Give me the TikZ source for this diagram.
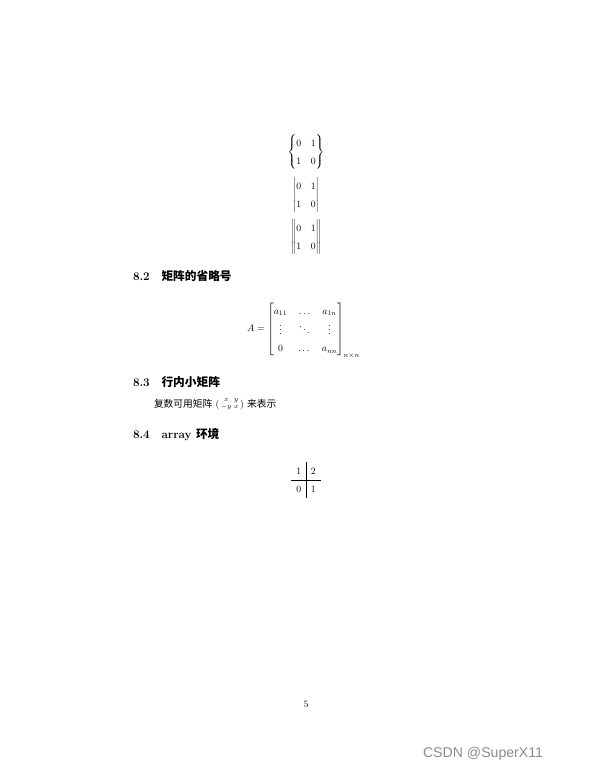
\documentclass[tikz,border=0pt]{standalone}
\usepackage{amsmath}
\usepackage{fontspec}
\newfontfamily\cjk{Noto Sans CJK SC}
\newfontfamily\wmfont{Liberation Sans}
\renewcommand{\arraystretch}{1.5}
\begin{document}
\begin{tikzpicture}[x=1.0268pt,y=-1.0268pt,
  every node/.style={inner sep=0pt,outer sep=0pt},
  heading/.style={anchor=base west,font=\large\bfseries},
  body/.style={anchor=base west,font=\normalsize},
  eqn/.style={anchor=center}]
\path[use as bounding box,fill=white] (0,0) rectangle (596,773);
% displayed matrices
\node[eqn] (bm) at (306,152) {$\begin{Bmatrix} 0 & 1\\ 1 & 0\end{Bmatrix}$};
\node[eqn] (vm) at (306,195) {$\begin{vmatrix} 0 & 1\\ 1 & 0\end{vmatrix}$};
\node[eqn] (Vm) at (306,237) {$\begin{Vmatrix} 0 & 1\\ 1 & 0\end{Vmatrix}$};
% 8.2
\node[heading] (s82) at (133,280) {8.2\hspace{1em}{\cjk\bfseries 矩阵的省略号}};
\node[anchor=west] (Aeq) at (247,330) {$A=\begin{bmatrix} a_{11} & \hspace{2pt}\dots\hspace{2pt} & a_{1n}\\ \vdots & \ddots & \vdots\\ 0 & \dots & a_{nn}\end{bmatrix}_{n\times n}$};
% 8.3
\node[heading] (s83) at (133,386) {8.3\hspace{1em}{\cjk\bfseries 行内小矩阵}};
\node[body] (p83) at (154,407) {{\cjk 复数可用矩阵} $(\begin{smallmatrix} x & y\\ -y & x\end{smallmatrix})$ {\cjk 来表示}};
% 8.4
\node[heading] (s84) at (133,438) {8.4\hspace{1em}array {\cjk\bfseries 环境}};
\node[eqn] (arr) at (306,480) {$\begin{array}{c|c} 1 & 2\\ \hline 0 & 1\end{array}$};
% page number
\node[body,anchor=base] (pg) at (306,707) {5};
% watermark
\node[anchor=base west,font=\wmfont\fontsize{14.5}{16}\selectfont,text=black!45] (wm) at (423,757) {CSDN @SuperX11};
\end{tikzpicture}
\end{document}
